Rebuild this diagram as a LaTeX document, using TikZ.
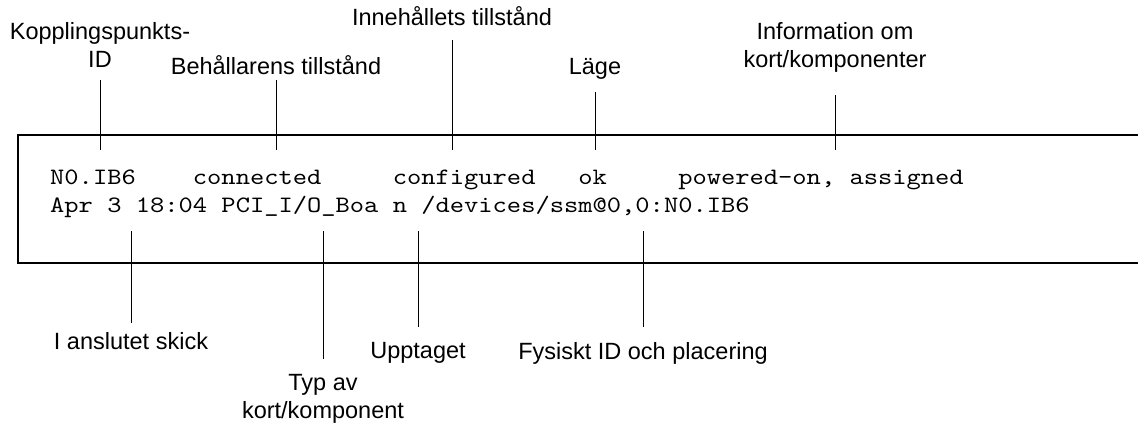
\documentclass[tikz,border=0pt]{standalone}
\usepackage{fontspec}
\setmainfont{Liberation Sans}
\newfontfamily\outfont{lmmono10-regular.otf}
\newcommand\outtext[1]{\scalebox{1.157}[1]{#1}}
\usetikzlibrary{positioning}

\begin{document}
\begin{tikzpicture}[x=1pt,y=-1pt,
  lbl/.style={font=\fontsize{23.5}{28}\selectfont,align=center,inner xsep=0pt},
  outline/.style={font=\outfont\fontsize{23.5}{28}\selectfont,anchor=base west,inner sep=0pt},
  pin/.style={line width=1pt},
  frame/.style={line width=2pt}]
\useasboundingbox (0,0) rectangle (1138,426);

% screen box, open to the right
\draw[frame] (1140,135) -- (18,135) -- (18,263) -- (1140,263);

% output lines
\node[outline] (row1) at (50,184) {\outtext{N0.IB6\ \ \ \ connected\ \ \ \ \ configured\ \ \ ok\ \ \ \ \ powered-on,\ assigned}};
\node[outline] (row2) at (50,212) {\outtext{Apr\ 3\ 18:04\ PCI\_I/O\_Boa\ n\ /devices/ssm@0,0:N0.IB6}};

% labels above
\node[lbl,anchor=south,inner ysep=12pt] (apid) at (100,80) {Kopplingspunkts-\\ID};
\node[lbl,anchor=south,inner ysep=5pt] (rstate) at (276,80) {Behållarens tillstånd};
\node[lbl,anchor=south,inner ysep=14pt] (ostate) at (452,40) {Innehållets tillstånd};
\node[lbl,anchor=south,inner ysep=12pt] (cond) at (595,92) {Läge};
\node[lbl,anchor=south,inner ysep=22pt] (info) at (835,95) {Information om\\kort/komponenter};

\coordinate (apidend) at (100,150);
\coordinate (rstateend) at (276,150);
\coordinate (ostateend) at (452,150);
\coordinate (condend) at (595,150);
\coordinate (infoend) at (835,150);

\draw[pin] (apid) -- (apidend);
\draw[pin] (rstate) -- (rstateend);
\draw[pin] (ostate) -- (ostateend);
\draw[pin] (cond) -- (condend);
\draw[pin] (info) -- (infoend);

% labels below
\node[lbl,anchor=north,inner ysep=9pt] (since) at (131,323) {I anslutet skick};
\node[lbl,anchor=north,inner ysep=15pt] (btype) at (323,359) {Typ av\\kort/komponent};
\node[lbl,anchor=north,inner ysep=15pt] (busy) at (418,327) {Upptaget};
\node[lbl,anchor=north,inner ysep=15pt] (physid) at (643,327) {Fysiskt ID och placering};

\coordinate (sincetop) at (131,231);
\coordinate (btypetop) at (323,231);
\coordinate (busytop) at (418,231);
\coordinate (physidtop) at (643,231);

\draw[pin] (sincetop) -- (since);
\draw[pin] (btypetop) -- (btype);
\draw[pin] (busytop) -- (busy);
\draw[pin] (physidtop) -- (physid);
\end{tikzpicture}
\end{document}
